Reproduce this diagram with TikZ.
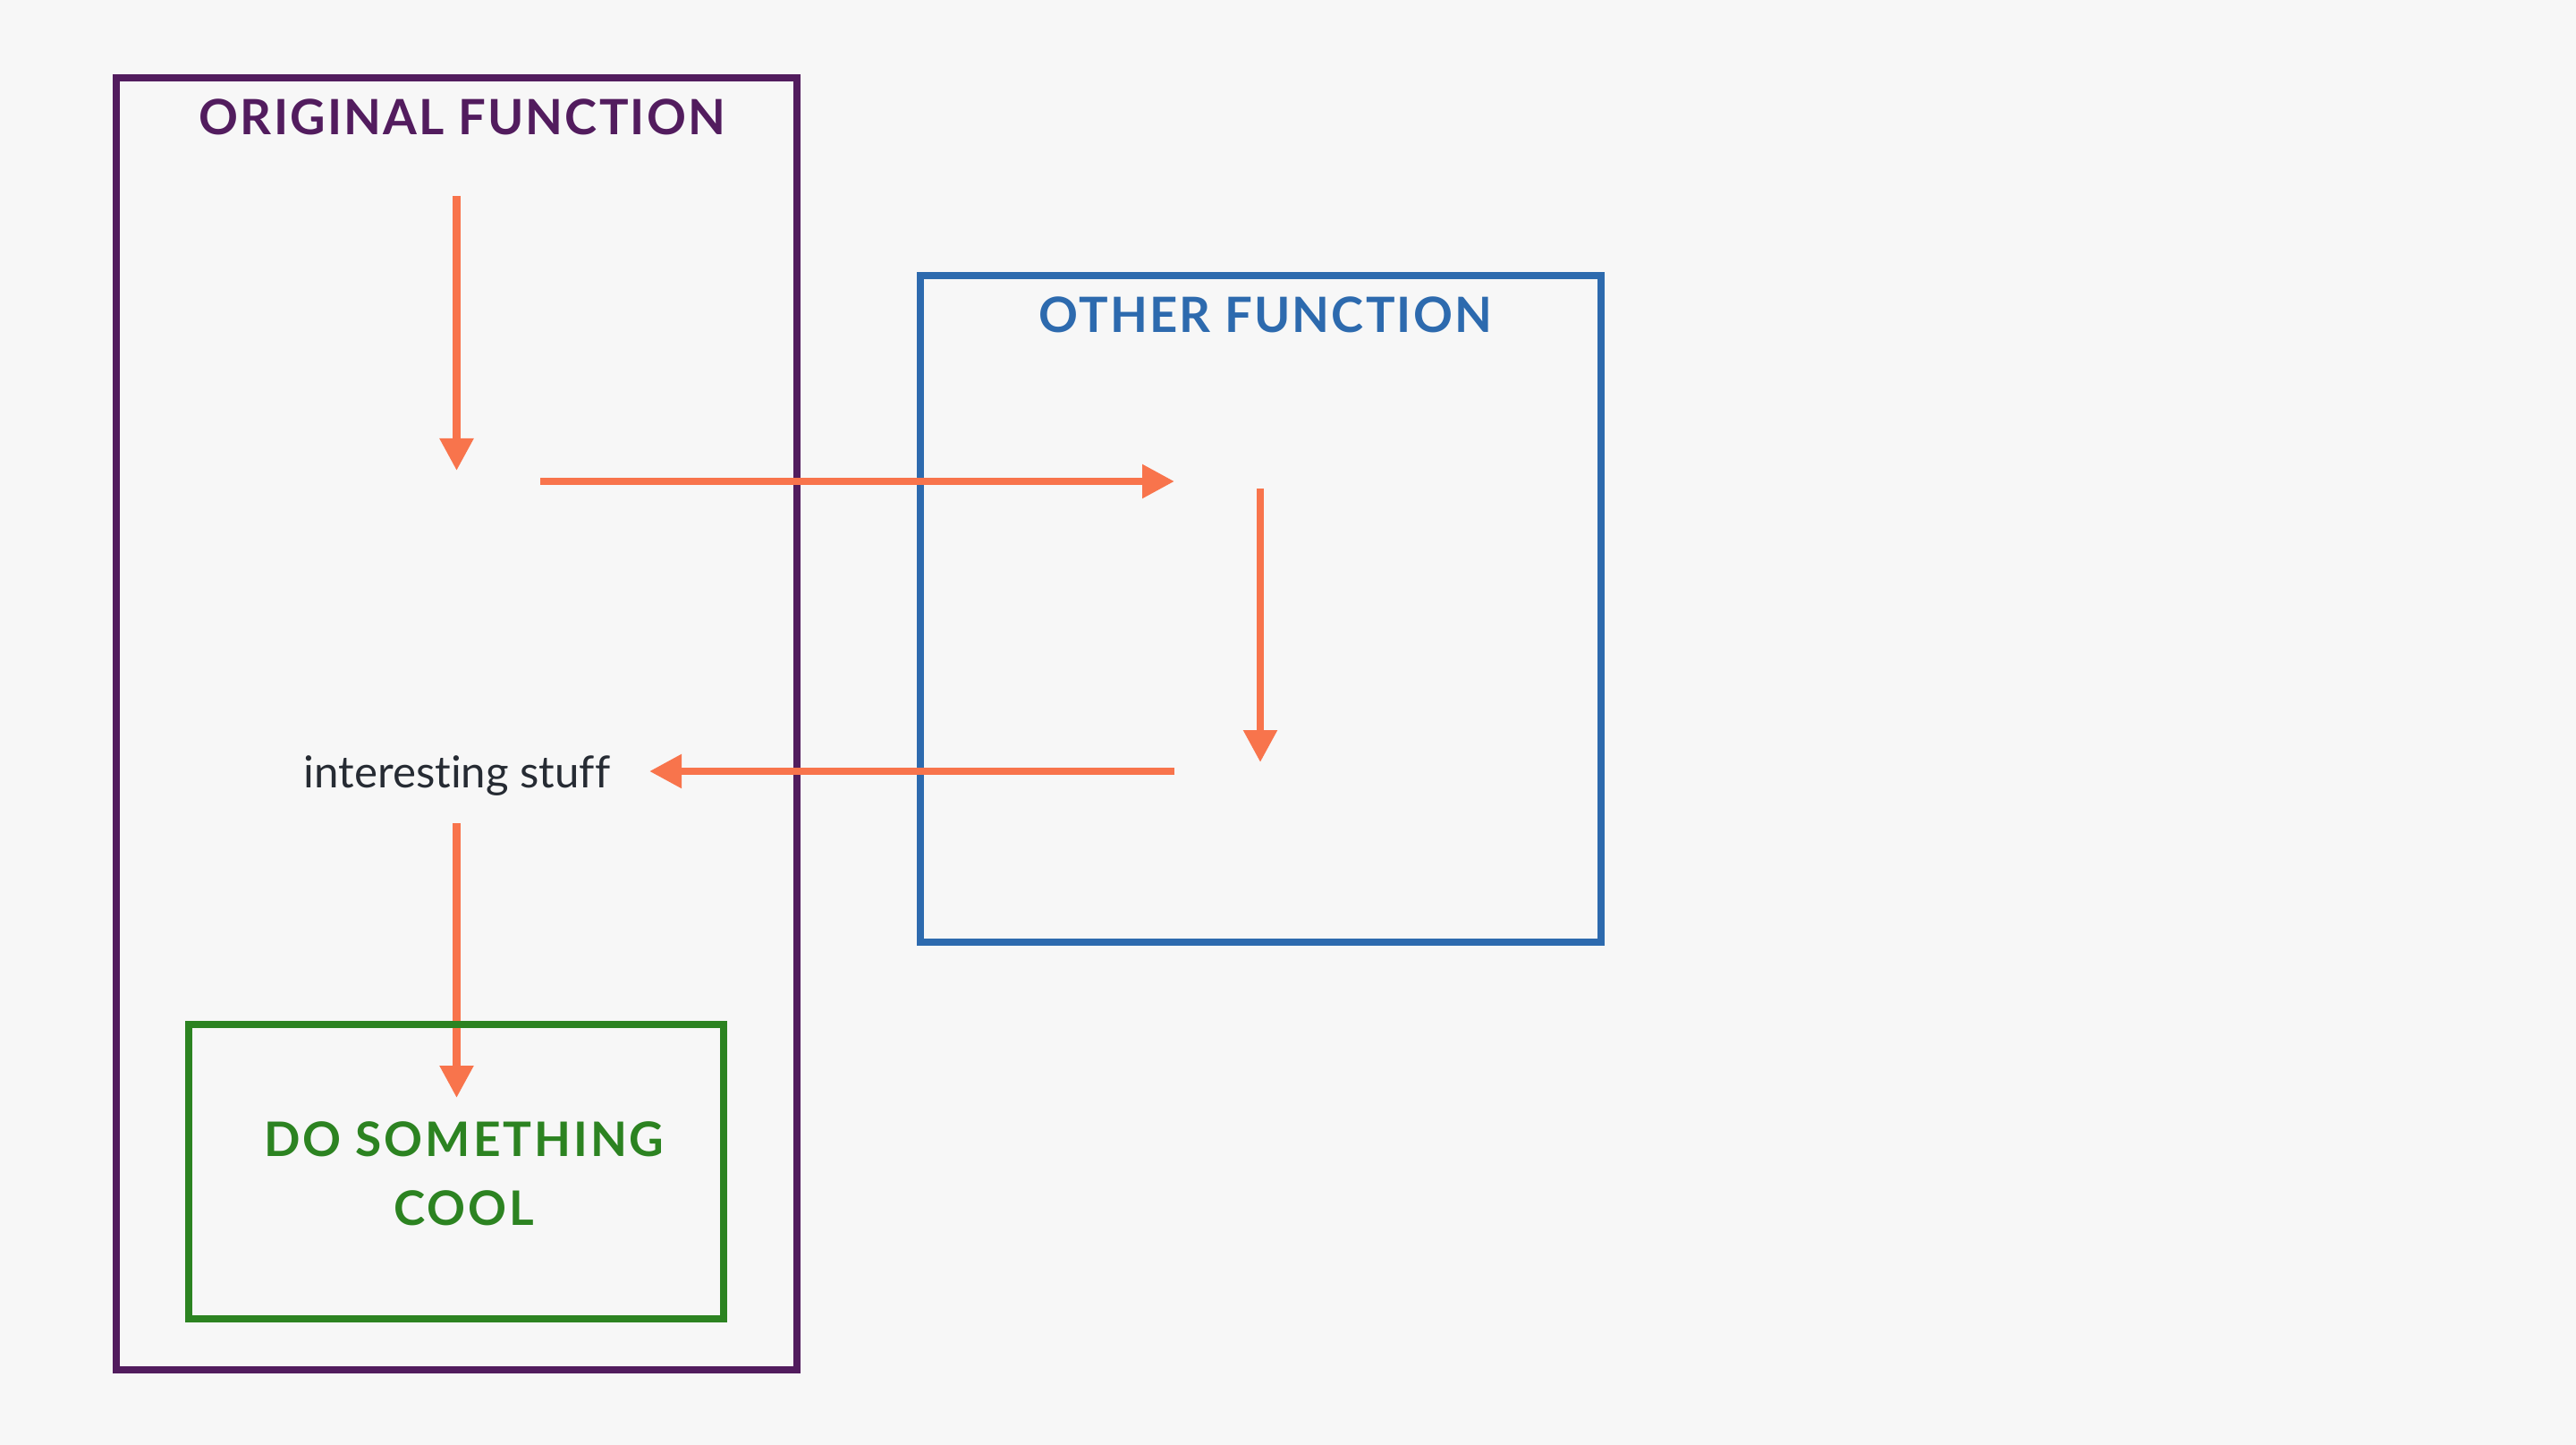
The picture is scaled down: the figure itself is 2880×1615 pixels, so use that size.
\documentclass[tikz,border=0pt]{standalone}
\usepackage{fontspec}
\setmainfont{Lato}[Ligatures=NoCommon]
\usetikzlibrary{arrows.meta}
\definecolor{bgc}{HTML}{F7F7F7}
\definecolor{purp}{HTML}{521C5E}
\definecolor{bluec}{HTML}{2D6AAE}
\definecolor{greenc}{HTML}{2C8321}
\definecolor{arrowc}{HTML}{F8744C}
\definecolor{textc}{HTML}{262B33}
\begin{document}
\begin{tikzpicture}[x=0.25pt,y=-0.25pt,
  frame/.style={draw, line width=2pt, inner sep=0pt, outer sep=0pt, rectangle},
  title/.style={font=\bfseries\fontsize{13.6}{16}\selectfont\addfontfeature{LetterSpace=4}, anchor=base, inner sep=0pt},
  plain/.style={font=\fontsize{12.3}{16}\selectfont, text=textc, anchor=base, inner sep=0pt},
  flow/.style={draw=arrowc, line width=2.1pt, -{Triangle[length=9pt,width=9pt]}},
]
\fill[bgc] (0,0) rectangle (2880,1615);
\useasboundingbox (0,0) rectangle (2880,1615);

% frames
\node[frame, draw=purp, minimum width=190.25pt, minimum height=361pt] (orig) at (510.5,809) {};
\node[frame, draw=bluec, minimum width=190.25pt, minimum height=186.25pt] (other) at (1409.5,680.5) {};

% titles and text
\node[title, text=purp] (origtitle) at (517,151) {ORIGINAL FUNCTION};
\node[title, text=bluec] (othertitle) at (1415,372) {OTHER FUNCTION};
\node[plain] (stuff) at (511,880) {interesting stuff};

% arrow ends
\coordinate (a1s) at (510.5,219);
\coordinate (a1e) at (510.5,526);
\coordinate (a2s) at (604,538);
\coordinate (a2e) at (1313,538);
\coordinate (a3s) at (1409,546);
\coordinate (a3e) at (1409,852);
\coordinate (a4s) at (1313,862);
\coordinate (a4e) at (726,862);
\coordinate (a5s) at (510.5,920);
\coordinate (a5e) at (510.5,1227);

\draw[flow] (a1s) -- (a1e);
\draw[flow] (a2s) -- (a2e);
\draw[flow] (a3s) -- (a3e);
\draw[flow] (a4s) -- (a4e);
\draw[flow] (a5s) -- (a5e);

% green box on top
\node[frame, draw=greenc, minimum width=149.6pt, minimum height=82.25pt] (cool) at (510.25,1309.5) {};
\node[align=center, inner sep=0pt, text=greenc, font=\bfseries\fontsize{13.3}{19.25}\selectfont\addfontfeature{LetterSpace=5.5}] (cooltext) at (519,1311.5) {DO SOMETHING\\COOL};
\end{tikzpicture}
\end{document}
